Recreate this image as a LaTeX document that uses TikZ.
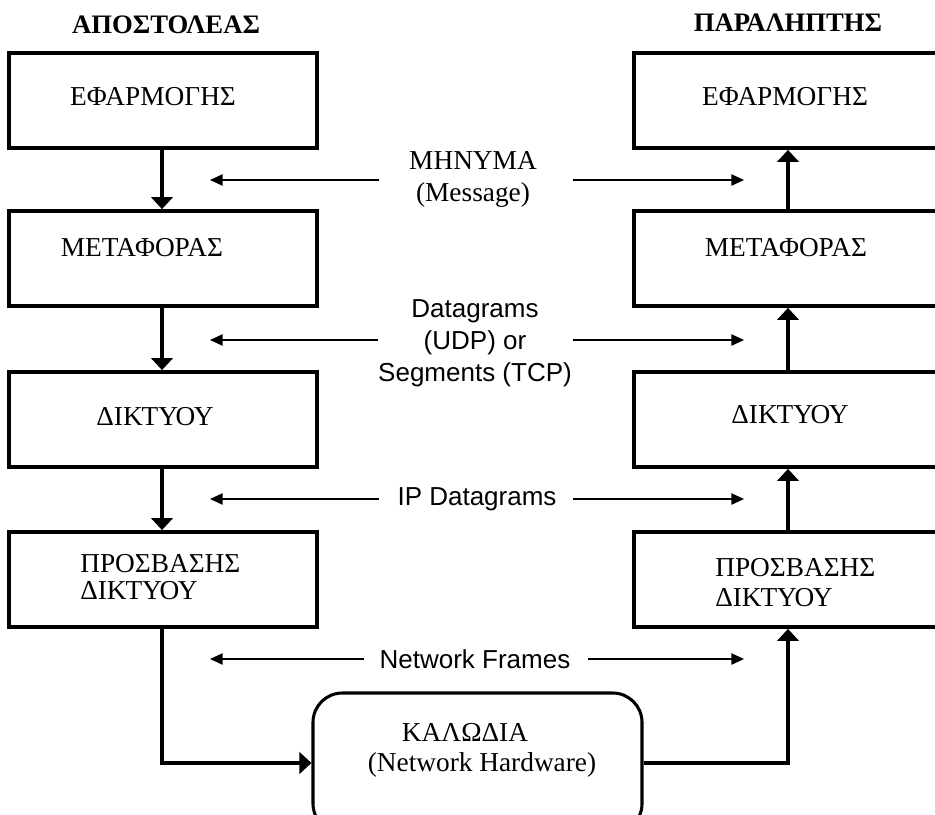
\documentclass[tikz,border=0pt]{standalone}
\usepackage{fontspec}
\setmainfont{Liberation Serif}
\setsansfont{Liberation Sans}
\usetikzlibrary{arrows.meta}
\begin{document}
\begin{tikzpicture}[x=0.75pt,y=-0.75pt,
  layer/.style={draw, line width=2.8pt, inner sep=0pt, minimum height=71.25pt},
  sendbox/.style={layer, minimum width=231pt},
  recvbox/.style={layer, minimum width=244.5pt},
  lbl/.style={font=\fontsize{20.5}{23}\selectfont, inner sep=0pt},
  title/.style={font=\fontsize{20}{23}\selectfont\bfseries, inner sep=0pt},
  pdu/.style={font=\sffamily\fontsize{19.5}{24}\selectfont, inner sep=0pt, align=center},
  flow/.style={line width=2.6pt, -{Triangle[length=9pt,width=16pt]}},
  peer/.style={line width=1.1pt, -{Triangle[length=9.5pt,width=8.5pt]}}
]
\useasboundingbox (0,0) rectangle (935,814);
\clip (0,0) rectangle (935,814);

% column axes for the vertical flows
\coordinate (lx) at (162,0);
\coordinate (rx) at (788,0);

% titles
\node[title] (snd) at (166,25) {ΑΠΟΣΤΟΛΕΑΣ};
\node[title] (rcv) at (788,23) {ΠΑΡΑΛΗΠΤΗΣ};

% sender stack
\node[sendbox] (s1) at (163,100.5) {};
\node[sendbox] (s2) at (163,258.5) {};
\node[sendbox] (s3) at (163,419.5) {};
\node[sendbox] (s4) at (163,579.5) {};
\node[lbl] (s1t) at (153,97) {ΕΦΑΡΜΟΓΗΣ};
\node[lbl] (s2t) at (142,248) {ΜΕΤΑΦΟΡΑΣ};
\node[lbl] (s3t) at (155,417) {ΔΙΚΤΥΟΥ};
\node[lbl, anchor=west, align=left, font=\fontsize{20.5}{20.5}\selectfont] (s4t) at (80,577) {ΠΡΟΣΒΑΣΗΣ\\ΔΙΚΤΥΟΥ};

% receiver stack
\node[recvbox] (r1) at (797,100.5) {};
\node[recvbox] (r2) at (797,258.5) {};
\node[recvbox] (r3) at (797,419.5) {};
\node[recvbox] (r4) at (797,579.5) {};
\node[lbl] (r1t) at (785,97) {ΕΦΑΡΜΟΓΗΣ};
\node[lbl] (r2t) at (786,248) {ΜΕΤΑΦΟΡΑΣ};
\node[lbl] (r3t) at (790,415) {ΔΙΚΤΥΟΥ};
\node[lbl, anchor=west, align=left, font=\fontsize{20.5}{22.5}\selectfont] (r4t) at (715,583) {ΠΡΟΣΒΑΣΗΣ\\ΔΙΚΤΥΟΥ};

% physical medium
\node[draw, line width=2.3pt, rounded corners=22pt, inner sep=0pt, minimum width=246.75pt, minimum height=105pt] (hw) at (477.5,763) {};
\node[lbl] (hwa) at (465,732) {ΚΑΛΩΔΙΑ};
\node[lbl] (hwb) at (482,765) {(Network Hardware)};

% vertical flows
\draw[flow] (s1.south -| lx) -- (s2.north -| lx);
\draw[flow] (s2.south -| lx) -- (s3.north -| lx);
\draw[flow] (s3.south -| lx) -- (s4.north -| lx);
\draw[flow] (s4.south -| lx) |- (hw.west);
\draw[flow] (hw.east) -| (r4.south -| rx);
\draw[flow] (r4.north -| rx) -- (r3.south -| rx);
\draw[flow] (r3.north -| rx) -- (r2.south -| rx);
\draw[flow] (r2.north -| rx) -- (r1.south -| rx);

% peer-to-peer units
\node[lbl] (msg) at (473,160) {ΜΗΝΥΜΑ};
\node[lbl] (msg2) at (473,195) {(Message)};
\coordinate (m1) at (379,180); \coordinate (m1t) at (210,180);
\coordinate (m2) at (573,180); \coordinate (m2t) at (744,180);
\draw[peer] (m1) -- (m1t);
\draw[peer] (m2) -- (m2t);

\node[pdu] (dg) at (475,343) {Datagrams\\(UDP) or\\Segments (TCP)};
\coordinate (d1) at (378,340); \coordinate (d1t) at (210,340);
\coordinate (d2) at (573,340); \coordinate (d2t) at (744,340);
\draw[peer] (d1) -- (d1t);
\draw[peer] (d2) -- (d2t);

\node[pdu] (ip) at (477,499) {IP Datagrams};
\coordinate (i1) at (379,499); \coordinate (i1t) at (210,499);
\coordinate (i2) at (573,499); \coordinate (i2t) at (744,499);
\draw[peer] (i1) -- (i1t);
\draw[peer] (i2) -- (i2t);

\node[pdu] (nf) at (475,659) {Network Frames};
\coordinate (f1) at (364,659); \coordinate (f1t) at (210,659);
\coordinate (f2) at (588,659); \coordinate (f2t) at (744,659);
\draw[peer] (f1) -- (f1t);
\draw[peer] (f2) -- (f2t);
\end{tikzpicture}
\end{document}
